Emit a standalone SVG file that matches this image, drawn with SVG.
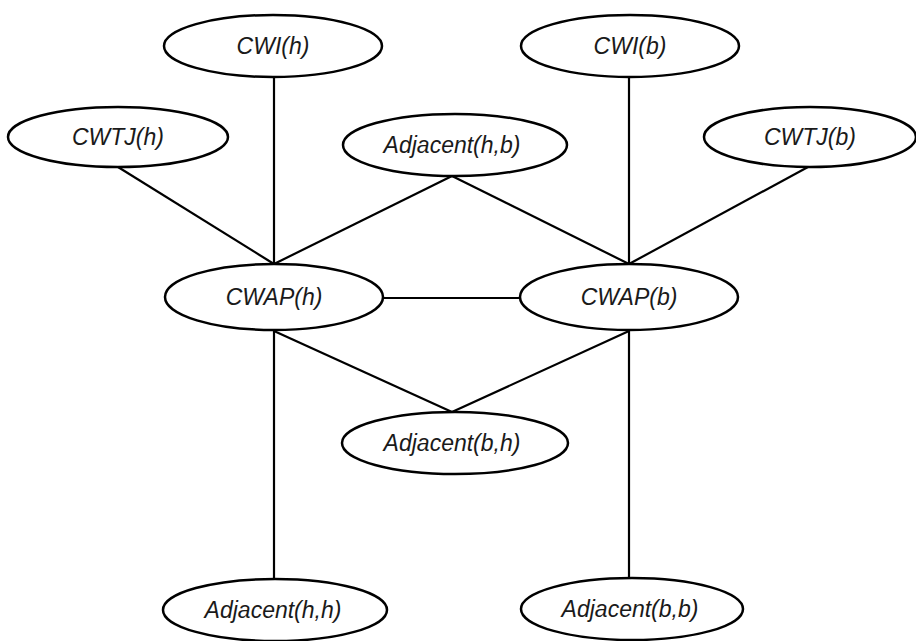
<svg xmlns="http://www.w3.org/2000/svg" width="916" height="641" viewBox="0 0 916 641">
  <style>
    .node ellipse { fill: #ffffff; stroke: #000000; stroke-width: 2.5; }
    .node text { font-family: "Liberation Sans", Arial, sans-serif; font-style: italic; font-size: 23px; fill: #1a1a1a; text-anchor: middle; }
    #edges line { stroke: #000000; stroke-width: 2.2; }
  </style>
  <rect width="916" height="641" fill="#ffffff"/>

  <g id="edges">
    <line x1="274" y1="77" x2="274" y2="264"/>
    <line x1="118" y1="167" x2="274" y2="264"/>
    <line x1="452" y1="176" x2="274" y2="264"/>
    <line x1="452" y1="176" x2="629" y2="264"/>
    <line x1="629" y1="77" x2="629" y2="264"/>
    <line x1="808" y1="167" x2="629" y2="264"/>
    <line x1="383" y1="298" x2="520" y2="298"/>
    <line x1="274" y1="331" x2="452" y2="412"/>
    <line x1="629" y1="331" x2="452" y2="412"/>
    <line x1="274" y1="331" x2="274" y2="579"/>
    <line x1="629" y1="331" x2="629" y2="578"/>
  </g>

  <g id="cwi-h" class="node">
    <ellipse cx="273" cy="46" rx="109" ry="31"/>
    <text x="273" y="54">CWI(h)</text>
  </g>
  <g id="cwi-b" class="node">
    <ellipse cx="630" cy="46" rx="109" ry="31"/>
    <text x="630" y="54">CWI(b)</text>
  </g>
  <g id="cwtj-h" class="node">
    <ellipse cx="118" cy="137" rx="110" ry="30"/>
    <text x="118" y="145">CWTJ(h)</text>
  </g>
  <g id="cwtj-b" class="node">
    <ellipse cx="810" cy="137" rx="106" ry="30"/>
    <text x="810" y="145">CWTJ(b)</text>
  </g>
  <g id="adjacent-h-b" class="node">
    <ellipse cx="455" cy="145" rx="112" ry="31"/>
    <text x="452" y="153">Adjacent(h,b)</text>
  </g>
  <g id="cwap-h" class="node">
    <ellipse cx="274" cy="297" rx="109" ry="33"/>
    <text x="274" y="305">CWAP(h)</text>
  </g>
  <g id="cwap-b" class="node">
    <ellipse cx="629" cy="297" rx="109" ry="33"/>
    <text x="629" y="305">CWAP(b)</text>
  </g>
  <g id="adjacent-b-h" class="node">
    <ellipse cx="455" cy="443" rx="113" ry="31"/>
    <text x="452" y="451">Adjacent(b,h)</text>
  </g>
  <g id="adjacent-h-h" class="node">
    <ellipse cx="275" cy="610" rx="112" ry="31"/>
    <text x="273" y="618">Adjacent(h,h)</text>
  </g>
  <g id="adjacent-b-b" class="node">
    <ellipse cx="632" cy="609" rx="111" ry="31"/>
    <text x="630" y="617">Adjacent(b,b)</text>
  </g>
</svg>
